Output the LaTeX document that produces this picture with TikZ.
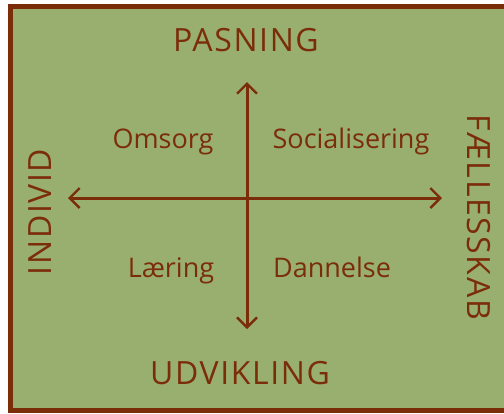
\documentclass[tikz,border=0pt]{standalone}
\usepackage{fontspec}
\setmainfont{Open Sans}
\newfontfamily\spaerret[LetterSpace=5]{Open Sans}
\usetikzlibrary{arrows.meta}

\definecolor{brun}{HTML}{7B2D0A}
\definecolor{groen}{HTML}{99AF6F}

\begin{document}
\begin{tikzpicture}[x=0.5pt,y=-0.5pt,
  akse/.style={brun, line width=1.5pt, {Straight Barb[length=5pt,width=10pt,line width=1.2pt]}-{Straight Barb[length=5pt,width=10pt,line width=1.2pt]}},
  pol/.style={text=brun, font=\spaerret\fontsize{16}{18}\selectfont, inner sep=0pt},
  felt/.style={text=brun, font=\fontsize{13.5}{16}\selectfont, inner sep=0pt}]
\useasboundingbox (0,0) rectangle (504,413);

% Ramme og baggrund
\fill[brun] (8,4) rectangle (504,413);
\fill[groen] (13,9) rectangle (504,408);

% Aksernes endepunkter
\coordinate (top) at (247,82);
\coordinate (bund) at (247,329);
\coordinate (venstre) at (68,198);
\coordinate (hoejre) at (442,198);

% Akser
\draw[akse] (bund) -- (top);
\draw[akse] (venstre) -- (hoejre);

% Polerne
\node[pol, anchor=base] (pasning) at (246,51) {PASNING};
\node[pol, anchor=base] (udvikling) at (240,384) {UDVIKLING};
\node[pol, anchor=base, rotate=90] (individ) at (52,212) {INDIVID};
\node[pol, anchor=base, rotate=-90] (faelles) at (467,217) {FÆLLESSKAB};

% Felterne
\node[felt, anchor=base] (omsorg) at (163,148) {Omsorg};
\node[felt, anchor=base] (social) at (351,148) {Socialisering};
\node[felt, anchor=base] (laering) at (171,277) {Læring};
\node[felt, anchor=base] (dannelse) at (332,277) {Dannelse};
\end{tikzpicture}
\end{document}
